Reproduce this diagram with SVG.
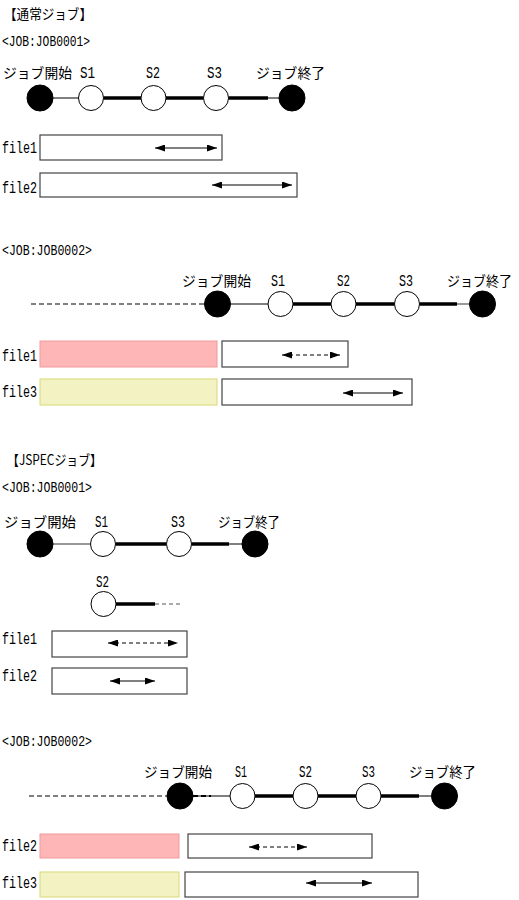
<svg xmlns="http://www.w3.org/2000/svg" width="519" height="900" viewBox="0 0 519 900">
<style>
.jp{font-family:"Noto Sans CJK JP",sans-serif;font-size:14px;fill:#000}
.ttl{font-family:"Noto Sans CJK JP",sans-serif;font-size:14px;fill:#000}
.lat{font-family:"Liberation Mono",monospace;font-size:16.5px;fill:#000}
.job{font-family:"Liberation Mono",monospace;font-size:14px;fill:#000}
.blk{fill:#000;stroke:#000;stroke-width:1}
.wht{fill:#fff;stroke:#000;stroke-width:1}
.thin{stroke:#000;stroke-width:1;fill:none}
.grey{stroke:#777;stroke-width:1.5;fill:none}
.thick{stroke:#000;stroke-width:3.5;fill:none}
.dash{stroke:#000;stroke-width:1;stroke-dasharray:5,3;fill:none}
.dashg{stroke:#555;stroke-width:1;stroke-dasharray:4,3;fill:none}
.box{fill:#fff;stroke:#444;stroke-width:1.2}
.pink{fill:#ffb6b6;stroke:#f09a9a;stroke-width:1}
.yel{fill:#f2f2c2;stroke:#d8d878;stroke-width:1}
.arr{stroke:#000;stroke-width:1;fill:none;marker-start:url(#ah);marker-end:url(#ah)}
.arrd{stroke:#000;stroke-width:1;stroke-dasharray:4,3;fill:none;marker-start:url(#ah);marker-end:url(#ah)}
</style>
<defs>
<marker id="ah" viewBox="0 0 10 7" refX="10" refY="3.5" markerWidth="10" markerHeight="7" markerUnits="userSpaceOnUse" orient="auto-start-reverse"><path d="M0,0 L10,3.5 L0,7 z" fill="#000"/></marker>
</defs>

<!-- Section 1 -->
<text class="ttl" x="4" y="19" textLength="88" lengthAdjust="spacingAndGlyphs">【通常ジョブ】</text>
<text class="job" x="2" y="46" textLength="88" lengthAdjust="spacingAndGlyphs">&lt;JOB:JOB0001&gt;</text>

<g id="connectors">
<line class="thin" x1="53" y1="98" x2="78.5" y2="98"/>
<line class="thick" x1="103.5" y1="98" x2="141" y2="98"/>
<line class="thick" x1="166" y1="98" x2="203.5" y2="98"/>
<line class="thick" x1="228.5" y1="98" x2="268" y2="98"/>
<line class="thin" x1="268" y1="98" x2="279" y2="98"/>
<line class="dash" x1="31" y1="304" x2="204.5" y2="304"/>
<line class="thin" x1="230.5" y1="304" x2="268" y2="304"/>
<line class="thick" x1="293" y1="304" x2="331" y2="304"/>
<line class="thick" x1="356" y1="304" x2="394.5" y2="304"/>
<line class="thick" x1="419.5" y1="304" x2="457" y2="304"/>
<line class="grey" x1="457" y1="304" x2="469.5" y2="304"/>
<line class="grey" x1="53" y1="544" x2="90.5" y2="544"/>
<line class="thick" x1="115.5" y1="544" x2="166.5" y2="544"/>
<line class="thick" x1="191.5" y1="544" x2="229" y2="544"/>
<line class="thin" x1="229" y1="544" x2="242" y2="544"/>
<line class="thick" x1="116" y1="604" x2="155" y2="604"/>
<line class="dashg" x1="155" y1="604" x2="181" y2="604"/>
<line class="dash" x1="29" y1="796" x2="167" y2="796"/>
<line class="thin" x1="193" y1="796" x2="230" y2="796"/>
<line class="dash" x1="193" y1="796" x2="211" y2="796" style="stroke-width:1.8"/>
<line class="thick" x1="255" y1="796" x2="293" y2="796"/>
<line class="thick" x1="318" y1="796" x2="356" y2="796"/>
<line class="thick" x1="381" y1="796" x2="419" y2="796"/>
<line class="thin" x1="419" y1="796" x2="431.5" y2="796"/>
</g>

<g id="j1-start"><text class="jp" x="3" y="78" textLength="69" lengthAdjust="spacingAndGlyphs">ジョブ開始</text><circle class="blk" cx="40" cy="98" r="13"/></g>
<g id="j1-s1"><text class="lat" x="80" y="78" textLength="15" lengthAdjust="spacingAndGlyphs">S1</text><circle class="wht" cx="91" cy="98" r="12.5"/></g>
<g id="j1-s2"><text class="lat" x="146" y="78" textLength="14" lengthAdjust="spacingAndGlyphs">S2</text><circle class="wht" cx="153.5" cy="98" r="12.5"/></g>
<g id="j1-s3"><text class="lat" x="207" y="78" textLength="15" lengthAdjust="spacingAndGlyphs">S3</text><circle class="wht" cx="216" cy="98" r="12.5"/></g>
<g id="j1-end"><text class="jp" x="256" y="78" textLength="69" lengthAdjust="spacingAndGlyphs">ジョブ終了</text><circle class="blk" cx="292" cy="98" r="13"/></g>
<g id="j1-file1"><text class="lat" x="2" y="153" textLength="35" lengthAdjust="spacingAndGlyphs">file1</text><rect class="box" x="40" y="135" width="182" height="25"/><line class="arr" x1="155" y1="148" x2="217" y2="148"/></g>
<g id="j1-file2"><text class="lat" x="2" y="193" textLength="35" lengthAdjust="spacingAndGlyphs">file2</text><rect class="box" x="40" y="173" width="257" height="24"/><line class="arr" x1="212" y1="185" x2="292" y2="185"/></g>

<!-- Section 2 -->
<text class="job" x="2" y="255" textLength="90" lengthAdjust="spacingAndGlyphs">&lt;JOB:JOB0002&gt;</text>
<g id="j2-start"><text class="jp" x="182" y="286" textLength="69" lengthAdjust="spacingAndGlyphs">ジョブ開始</text><circle class="blk" cx="217.5" cy="304" r="13"/></g>
<g id="j2-s1"><text class="lat" x="271" y="286" textLength="14" lengthAdjust="spacingAndGlyphs">S1</text><circle class="wht" cx="280.5" cy="304" r="12.5"/></g>
<g id="j2-s2"><text class="lat" x="337" y="286" textLength="13" lengthAdjust="spacingAndGlyphs">S2</text><circle class="wht" cx="343.5" cy="304" r="12.5"/></g>
<g id="j2-s3"><text class="lat" x="399" y="286" textLength="14" lengthAdjust="spacingAndGlyphs">S3</text><circle class="wht" cx="407" cy="304" r="12.5"/></g>
<g id="j2-end"><text class="jp" x="447" y="286" textLength="65" lengthAdjust="spacingAndGlyphs">ジョブ終了</text><circle class="blk" cx="482.5" cy="304" r="13"/></g>
<g id="j2-file1"><text class="lat" x="2" y="361" textLength="35" lengthAdjust="spacingAndGlyphs">file1</text><rect class="pink" x="40" y="341" width="177" height="26"/><rect class="box" x="222" y="341" width="126" height="26"/><line class="arrd" x1="282" y1="355" x2="340" y2="355"/></g>
<g id="j2-file3"><text class="lat" x="2" y="397" textLength="35" lengthAdjust="spacingAndGlyphs">file3</text><rect class="yel" x="40" y="379" width="177" height="26"/><rect class="box" x="222" y="379" width="190" height="26"/><line class="arr" x1="343" y1="393" x2="403" y2="393"/></g>

<!-- Section 3 -->
<text class="ttl" x="7" y="465" textLength="95" lengthAdjust="spacingAndGlyphs">【JSPECジョブ】</text>
<text class="job" x="2" y="492" textLength="90" lengthAdjust="spacingAndGlyphs">&lt;JOB:JOB0001&gt;</text>
<g id="j3-start"><text class="jp" x="4" y="527" textLength="72" lengthAdjust="spacingAndGlyphs">ジョブ開始</text><circle class="blk" cx="40" cy="544" r="13"/></g>
<g id="j3-s1"><text class="lat" x="95" y="527" textLength="13" lengthAdjust="spacingAndGlyphs">S1</text><circle class="wht" cx="103" cy="544" r="12.5"/></g>
<g id="j3-s3"><text class="lat" x="171" y="527" textLength="14" lengthAdjust="spacingAndGlyphs">S3</text><circle class="wht" cx="179" cy="544" r="12.5"/></g>
<g id="j3-end"><text class="jp" x="218" y="527" textLength="62" lengthAdjust="spacingAndGlyphs">ジョブ終了</text><circle class="blk" cx="255" cy="544" r="13"/></g>
<g id="j3-s2"><text class="lat" x="96" y="587" textLength="13" lengthAdjust="spacingAndGlyphs">S2</text><circle class="wht" cx="103.5" cy="604" r="12.5"/></g>
<g id="j3-file1"><text class="lat" x="2" y="644" textLength="35" lengthAdjust="spacingAndGlyphs">file1</text><rect class="box" x="52" y="631" width="135" height="26"/><line class="arrd" x1="108" y1="643" x2="178" y2="643"/></g>
<g id="j3-file2"><text class="lat" x="2" y="681" textLength="35" lengthAdjust="spacingAndGlyphs">file2</text><rect class="box" x="52" y="668" width="135" height="26"/><line class="arr" x1="110" y1="681" x2="155" y2="681"/></g>

<!-- Section 4 -->
<text class="job" x="2" y="746" textLength="90" lengthAdjust="spacingAndGlyphs">&lt;JOB:JOB0002&gt;</text>
<g id="j4-start"><text class="jp" x="144" y="777" textLength="68" lengthAdjust="spacingAndGlyphs">ジョブ開始</text><circle class="blk" cx="180" cy="796" r="13"/></g>
<g id="j4-s1"><text class="lat" x="235" y="777" textLength="12" lengthAdjust="spacingAndGlyphs">S1</text><circle class="wht" cx="242.5" cy="796" r="12.5"/></g>
<g id="j4-s2"><text class="lat" x="299" y="777" textLength="13" lengthAdjust="spacingAndGlyphs">S2</text><circle class="wht" cx="305.5" cy="796" r="12.5"/></g>
<g id="j4-s3"><text class="lat" x="362" y="777" textLength="13" lengthAdjust="spacingAndGlyphs">S3</text><circle class="wht" cx="368.5" cy="796" r="12.5"/></g>
<g id="j4-end"><text class="jp" x="409" y="777" textLength="67" lengthAdjust="spacingAndGlyphs">ジョブ終了</text><circle class="blk" cx="444.5" cy="796" r="13"/></g>
<g id="j4-file2"><text class="lat" x="2" y="851" textLength="35" lengthAdjust="spacingAndGlyphs">file2</text><rect class="pink" x="40" y="834" width="139" height="24"/><rect class="box" x="188" y="834" width="184" height="24"/><line class="arrd" x1="249" y1="847" x2="307" y2="847"/></g>
<g id="j4-file3"><text class="lat" x="2" y="888" textLength="35" lengthAdjust="spacingAndGlyphs">file3</text><rect class="yel" x="40" y="872" width="139" height="25"/><rect class="box" x="185" y="872" width="233" height="25"/><line class="arr" x1="306" y1="883" x2="372" y2="883"/></g>
</svg>
